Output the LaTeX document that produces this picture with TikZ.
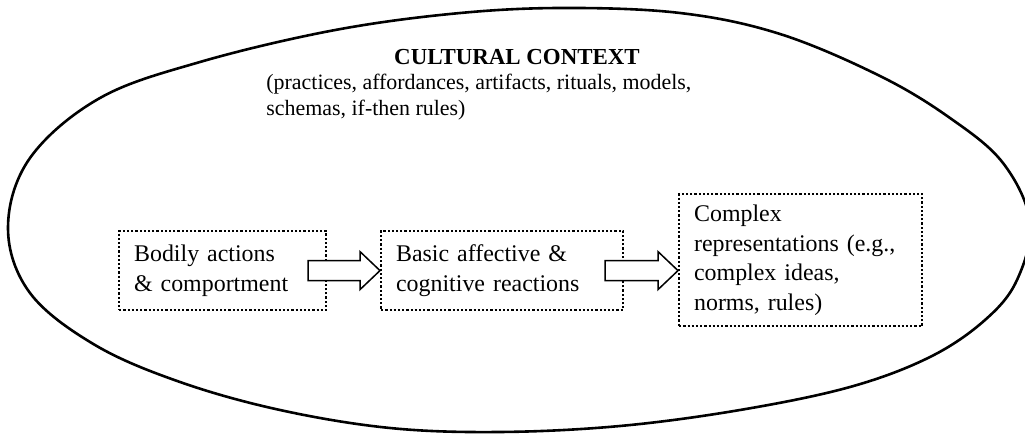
\documentclass[tikz,border=0pt]{standalone}
\usepackage{fontspec}
\setmainfont{Liberation Serif}
\usetikzlibrary{calc}

\tikzset{
  stage/.style={draw, line width=1.1bp, dash pattern=on 1.1bp off 1bp, align=left,
    anchor=north west, inner xsep=7.5bp, inner ysep=0pt,
    font=\fontsize{12}{14.8}\selectfont},
  flow/.style={draw, fill=white, line width=0.75bp},
  context/.style={line width=1.3bp}
}

% hollow block arrow from one box into the next
\newcommand{\flowarrow}[2]{%
  \coordinate (tip) at (#2.west |- #1.east);
  \draw[flow] ($(#1.east)+(-19,-10)$) -- ($(tip)+(-20,-10)$) -- ($(tip)+(-20,-19)$) -- (tip)
    -- ($(tip)+(-20,19)$) -- ($(tip)+(-20,10)$) -- ($(#1.east)+(-19,10)$) -- cycle;
}

\begin{document}
\begin{tikzpicture}[x=0.5bp, y=-0.5bp]
  \useasboundingbox (0,0) rectangle (1025,435);

  % the cultural context
  \draw[context] plot[smooth cycle, tension=0.6] coordinates {
    (8,228) (30,158) (100,98) (200,62) (330,31) (450,14) (560,8)
    (680,13) (780,34) (880,76) (950,118) (1003,163) (1030,222) (1017,280)
    (985,320) (930,357) (850,387) (740,410) (620,426) (500,432) (390,428)
    (280,410) (180,382) (95,345) (30,293)};

  \node[font=\fontsize{11.5}{13}\selectfont\bfseries, anchor=base] (title) at (517,65) {CULTURAL CONTEXT};
  \node[font=\fontsize{11}{13}\selectfont, align=left, anchor=north west, inner sep=0pt] (examples) at (266,74)
    {(practices, affordances, artifacts, rituals, models,\\schemas, if-then rules)};

  % the three stages
  \node[stage, text width=88.5bp, minimum height=39.5bp] (bodily) at (118,230) {Bodily actions\\\& comportment};
  \node[stage, text width=106bp, minimum height=39.5bp] (reactions) at (380,230) {Basic affective \&\\cognitive reactions};
  \node[stage, text width=106.5bp, minimum height=66bp] (complex) at (678,193) {Complex\\representations (e.g.,\\complex ideas,\\norms, rules)};

  \flowarrow{bodily}{reactions}
  \flowarrow{reactions}{complex}
\end{tikzpicture}
\end{document}
